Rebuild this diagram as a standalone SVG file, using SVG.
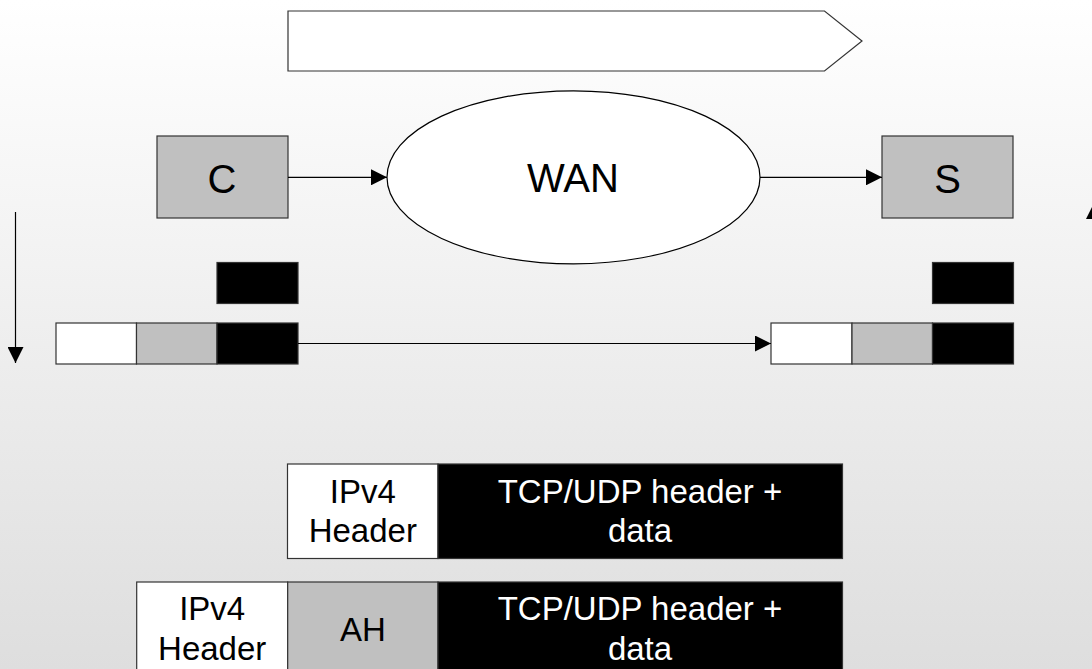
<svg xmlns="http://www.w3.org/2000/svg" width="1092" height="669" viewBox="0 0 1092 669">
<defs>
<linearGradient id="bg" x1="0" y1="0" x2="0" y2="1">
<stop offset="0" stop-color="#ffffff"/>
<stop offset="1" stop-color="#dedede"/>
</linearGradient>
<marker id="ah" viewBox="0 0 16 16" refX="16" refY="8" markerWidth="16" markerHeight="16" markerUnits="userSpaceOnUse" orient="auto">
<path d="M0,0 L16,8 L0,16 Z" fill="#000"/>
</marker>
<style>
.box{stroke:#333;stroke-width:1.2}
.w{fill:#fff}
.g{fill:#c0c0c0}
.b{fill:#000}
.t{font-family:"Liberation Sans",Arial,sans-serif;text-anchor:middle}
.big{font-size:40px;fill:#000}
.pk{font-size:33px}
.conn{stroke:#000;stroke-width:1.2;fill:none}
</style>
</defs>
<rect x="0" y="0" width="1092" height="669" fill="url(#bg)"/>
<g id="banner">
<path d="M288,11 L824.5,11 L862,41 L824.5,71 L288,71 Z" fill="#fff" stroke="#333" stroke-width="1.2"/>
</g>
<g id="nodeC">
<rect class="box g" x="157" y="136" width="131" height="82"/>
<text class="t big" x="222" y="192.5">C</text>
</g>
<g id="wan">
<ellipse cx="573.5" cy="177.3" rx="186.5" ry="86.5" fill="#fff" stroke="#000" stroke-width="1.2"/>
<text class="t big" x="573" y="192.3">WAN</text>
</g>
<g id="nodeS">
<rect class="box g" x="882" y="136" width="131" height="82"/>
<text class="t big" x="947.5" y="192.5">S</text>
</g>
<g id="cData">
<rect class="box b" x="217" y="262.5" width="81" height="41"/>
</g>
<g id="sData">
<rect class="box b" x="932.5" y="262.5" width="81" height="41"/>
</g>
<g id="cPacket">
<rect class="box w" x="56" y="323" width="80.5" height="41"/>
<rect class="box g" x="136.5" y="323" width="80.5" height="41"/>
<rect class="box b" x="217" y="323" width="81" height="41"/>
</g>
<g id="sPacket">
<rect class="box w" x="771" y="323" width="81" height="41"/>
<rect class="box g" x="852" y="323" width="80.5" height="41"/>
<rect class="box b" x="932.5" y="323" width="81" height="41"/>
</g>
<g id="connectors">
<line class="conn" x1="288" y1="177.3" x2="387" y2="177.3" marker-end="url(#ah)"/>
<line class="conn" x1="760" y1="177.3" x2="882" y2="177.3" marker-end="url(#ah)"/>
<line class="conn" x1="298" y1="343.5" x2="771" y2="343.5" marker-end="url(#ah)"/>
<line class="conn" x1="15.5" y1="212" x2="15.5" y2="363" marker-end="url(#ah)"/>
<line class="conn" x1="1094" y1="360" x2="1094" y2="203" marker-end="url(#ah)"/>
</g>
<g id="ipv4Packet">
<rect class="box w" x="287.5" y="464" width="150.5" height="94.5"/>
<rect class="box b" x="438" y="464" width="404.5" height="94.5"/>
<text class="t pk" x="362.8" y="503.3" fill="#000">IPv4</text>
<text class="t pk" x="362.8" y="542.3" fill="#000">Header</text>
<text class="t pk" x="640" y="503.3" fill="#fff">TCP/UDP header +</text>
<text class="t pk" x="640" y="542.3" fill="#fff">data</text>
</g>
<g id="ahPacket">
<rect class="box w" x="136.7" y="582" width="151" height="96"/>
<rect class="box g" x="287.7" y="582" width="150.3" height="96"/>
<rect class="box b" x="438" y="582" width="404.5" height="96"/>
<text class="t pk" x="212.2" y="620" fill="#000">IPv4</text>
<text class="t pk" x="212.2" y="660" fill="#000">Header</text>
<text class="t pk" x="362.9" y="640.7" fill="#000">AH</text>
<text class="t pk" x="640" y="620" fill="#fff">TCP/UDP header +</text>
<text class="t pk" x="640" y="660" fill="#fff">data</text>
</g>
</svg>
